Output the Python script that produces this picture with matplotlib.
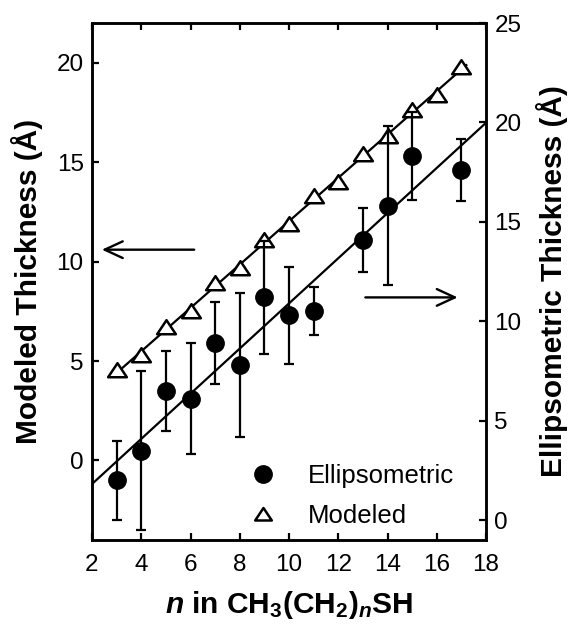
import matplotlib
matplotlib.use("Agg")
import matplotlib.pyplot as plt
import numpy as np
from matplotlib.path import Path

plt.rcParams['font.family'] = ['Liberation Sans', 'DejaVu Sans']
plt.rcParams['mathtext.fontset'] = 'custom'
plt.rcParams['mathtext.rm'] = 'Liberation Sans:bold'
plt.rcParams['mathtext.it'] = 'Liberation Sans:bold:italic'
plt.rcParams['mathtext.bf'] = 'Liberation Sans:bold'

# ---- data ----
n_modeled = [3, 4, 5, 6, 7, 8, 9, 10, 11, 12, 13, 14, 15, 16, 17]
modeled = [4.56, 5.3, 6.7, 7.5, 8.9, 9.7, 11.1, 11.9, 13.3, 14.0, 15.4, 16.3, 17.6, 18.4, 19.8]

n_ellip = [3, 4, 5, 6, 7, 8, 9, 10, 11, 13, 14, 15, 17]
ellip = [2.0, 3.5, 6.5, 6.1, 8.9, 7.8, 11.2, 10.3, 10.5, 14.1, 15.8, 18.3, 17.6]
ellip_err = [2.0, 4.0, 2.0, 2.8, 2.05, 3.6, 2.85, 2.45, 1.2, 1.6, 4.0, 2.2, 1.55]

x_ticks = [2, 4, 6, 8, 10, 12, 14, 16, 18]
left_ticks = [0, 5, 10, 15, 20]
right_ticks = [0, 5, 10, 15, 20, 25]

W, H = 575, 626
fig = plt.figure(figsize=(W / 100, H / 100), dpi=100)
L, R, T, B = 92, 486, 23, 540
ax = fig.add_axes([L / W, 1 - B / H, (R - L) / W, (B - T) / H])
ax2 = ax.twinx()

tri = Path([(-1, -0.72), (1, -0.72), (0, 0.78), (-1, -0.72)],
           [Path.MOVETO, Path.LINETO, Path.LINETO, Path.CLOSEPOLY])

# modeled (left axis)
pm = np.polyfit(n_modeled, modeled, 1)
xm = np.array([2.9, 17.2])
ax.plot(xm, np.polyval(pm, xm), color='black', lw=1.6, zorder=2)
ax.plot(n_modeled, modeled, linestyle='none', marker=tri, ms=13.5,
        mfc='white', mec='black', mew=1.8, zorder=4)

# ellipsometric (right axis)
pe = np.polyfit(n_ellip, ellip, 1)
xe = np.array([2, 18])
ax2.plot(xe, np.polyval(pe, xe), color='black', lw=1.6, zorder=2)
ax2.errorbar(n_ellip, ellip, yerr=ellip_err, fmt='o', color='black',
             ms=12.5, elinewidth=1.6, capsize=3.5, capthick=1.6, zorder=3)

ax.set_xlim(2, 18)
ax.set_ylim(-4, 22)
ax2.set_ylim(-1, 25)
ax.set_xticks(x_ticks)
ax.set_yticks(left_ticks)
ax2.set_yticks(right_ticks)

ax.tick_params(axis='both', direction='in', length=5, width=1.6,
               labelsize=17.5, pad=6, top=True)
ax.tick_params(axis='x', pad=10)
ax2.tick_params(axis='y', direction='in', length=5, width=1.6,
                labelsize=17.5, pad=6)
for a in (ax, ax2):
    for s in a.spines.values():
        s.set_linewidth(1.8)

ax.set_xlabel(r'$n$ in CH$_3$(CH$_2$)$_n$SH', fontsize=21.5, fontweight='bold')
ax.xaxis.set_label_coords(0.5, -0.095)
ax.set_ylabel('Modeled Thickness (Å)', fontsize=21.5, fontweight='bold', va='center')
ax.yaxis.set_label_coords(-0.165, 0.5)
ax2.set_ylabel('Ellipsometric Thickness (Å)', fontsize=21.5, fontweight='bold',
               va='center', rotation=90)
ax2.yaxis.set_label_coords(1.167, 0.5)

# arrows
arrow_style = '->,head_length=1.3,head_width=0.6'
ax.annotate('', xy=(2.4, 10.6), xytext=(6.15, 10.6),
            arrowprops=dict(arrowstyle=arrow_style,
                            lw=1.7, color='black', shrinkA=0, shrinkB=0))
ax.annotate('', xy=(16.85, 8.2), xytext=(13.1, 8.2),
            arrowprops=dict(arrowstyle=arrow_style,
                            lw=1.7, color='black', shrinkA=0, shrinkB=0))

# legend
h1 = plt.Line2D([], [], linestyle='none', marker='o', ms=12.5, color='black')
h2 = plt.Line2D([], [], linestyle='none', marker=tri, ms=12, mfc='white',
                mec='black', mew=1.8)
ax2.legend([h1, h2], ['Ellipsometric', 'Modeled'], loc='center left',
           bbox_to_anchor=(0.336, 0.086), frameon=False, fontsize=18.5,
           handlelength=1.2, handletextpad=1.15, labelspacing=0.62,
           borderpad=0.4)

fig.savefig('out.png', dpi=100)
